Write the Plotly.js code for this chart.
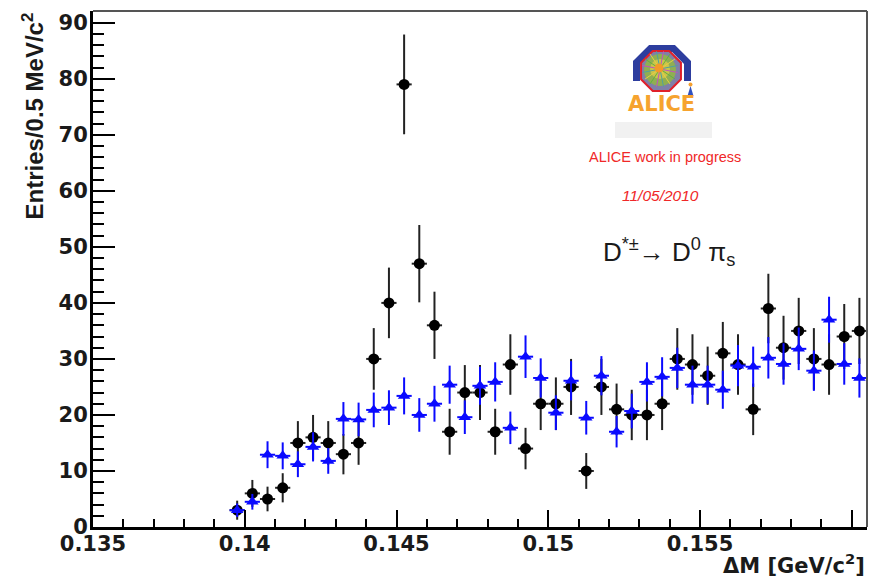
<!DOCTYPE html>
<html>
<head>
<meta charset="utf-8">
<script src="https://cdn.plot.ly/plotly-3.0.1.min.js"></script>
<style>html,body{margin:0;padding:0;background:#fff;}#chart{width:873px;height:580px;}</style>
</head>
<body>
<div id="chart"></div>
<script>
// ---- data ----
const binCenters = [0.13975,0.14025,0.14075,0.14125,0.14175,0.14225,0.14275,0.14325,0.14375,0.14425,
  0.14475,0.14525,0.14575,0.14625,0.14675,0.14725,0.14775,0.14825,0.14875,0.14925,
  0.14975,0.15025,0.15075,0.15125,0.15175,0.15225,0.15275,0.15325,0.15375,0.15425,
  0.15475,0.15525,0.15575,0.15625,0.15675,0.15725,0.15775,0.15825,0.15875,0.15925,
  0.15975,0.16025];
const binHalfWidth = 0.00025;
const signalCounts = [3,6,5,7,15,16,15,13,15,30,40,79,47,36,17,24,24,17,29,14,
  22,22,25,10,25,21,20,20,22,30,29,27,31,29,21,39,32,35,30,29,34,35];
const signalErrors = [1.7,2.4,2.2,2.6,3.9,4.0,3.9,3.6,3.9,5.5,6.3,8.9,6.9,6.0,4.1,4.9,4.9,4.1,5.4,3.7,
  4.7,4.7,5.0,3.2,5.0,4.6,4.5,4.5,4.7,5.5,5.4,5.2,5.6,5.4,4.6,6.2,5.7,5.9,5.5,5.4,5.8,5.9];
const bkgCounts = [3,4.5,12.9,12.7,11.2,14.3,11.8,19.3,19.2,20.9,21.3,23.4,20,22,25.4,19.6,25.2,25.9,17.7,30.4,
  26.6,20.4,26.1,19.5,27,17,20.7,25.9,26.8,28.4,25.4,25.4,24.5,28.8,28.6,30.2,29.1,31.8,27.9,37,29.1,26.6];
const bkgErrors = [1.2,1.4,2.4,2.4,2.3,2.6,2.3,3.0,3.0,3.1,3.1,3.3,3.0,3.2,3.4,3.0,3.4,3.5,2.9,3.8,
  3.5,3.1,3.5,3.0,3.5,2.8,3.1,3.5,3.5,3.6,3.4,3.4,3.4,3.7,3.6,3.7,3.7,3.8,3.6,4.1,3.7,3.5];
const xTickVals = [0.135,0.14,0.145,0.15,0.155,0.16];
const xTickLabels = ['0.135','0.14','0.145','0.15','0.155','0.16'];
const yTickVals = [0,10,20,30,40,50,60,70,80,90];
const yTickLabels = ['0','10','20','30','40','50','60','70','80','90'];

// ---- pixel helpers for decorations (plot area 93..867 x 11..527) ----
const L=93, R=867, T=11, B=527;
function PX(p){return (p-L)/(R-L);}
function PY(p){return (B-p)/(B-T);}

const traces = [
  {
    x: binCenters, y: signalCounts, type:'scatter', mode:'markers', name:'signal',
    marker:{symbol:'circle', size:11, color:'#000'},
    error_y:{type:'data', array:signalErrors, visible:true, thickness:2, width:0, color:'#222'},
    error_x:{type:'constant', value:binHalfWidth, visible:true, thickness:2, width:0, color:'#222'},
    hoverinfo:'x+y'
  },
  {
    x: binCenters, y: bkgCounts, type:'scatter', mode:'markers', name:'background',
    marker:{symbol:'triangle-up', size:11, color:'#0a0aff'},
    error_y:{type:'data', array:bkgErrors, visible:true, thickness:2, width:0, color:'#0a0aff'},
    error_x:{type:'constant', value:binHalfWidth, visible:true, thickness:2, width:0, color:'#0a0aff'},
    hoverinfo:'x+y'
  }
];

// frame + logo shapes
const shapes = [
  {type:'line', xref:'paper', yref:'paper', x0:0, x1:1, y0:1, y1:1, line:{color:'#555', width:2}},
  {type:'line', xref:'paper', yref:'paper', x0:1, x1:1, y0:0, y1:1, line:{color:'#555', width:2}}
];
function pathFrom(pts, close){
  return pts.map((p,i)=>(i?'L':'M')+PX(p[0]).toFixed(5)+','+PY(p[1]).toFixed(5)).join(' ')+(close?' Z':'');
}
// blue arch
shapes.push({type:'path', xref:'paper', yref:'paper', layer:'above',
  path:pathFrom([[636.5,81],[636.5,62.5],[650.5,48.5],[673.5,48.5],[687.5,62.5],[687.5,81]], false),
  line:{color:'#2d3d9e', width:7}});
// red octagon
const oc=[661,71], orad=21.6;
const octPts=[];
for(let k=0;k<8;k++){const a=(22.5+45*k)*Math.PI/180; octPts.push([oc[0]+orad*Math.cos(a), oc[1]+orad*Math.sin(a)]);}
shapes.push({type:'path', xref:'paper', yref:'paper', layer:'above', path:pathFrom(octPts,true),
  fillcolor:'#7f7fa8', line:{color:'#e0202a', width:2}});
function circ(cx,cy,r,col){return {type:'circle', xref:'paper', yref:'paper', layer:'above',
  x0:PX(cx-r), x1:PX(cx+r), y0:PY(cy+r), y1:PY(cy-r), fillcolor:col, line:{width:0}};}
shapes.push(circ(660,70,16,'#8fae52'));
shapes.push(circ(660,69,10,'#c9c44a'));
const rayCols=['#c050c0','#60b040','#e8d040','#50a0a0'];
for(let k=0;k<16;k++){
  const a=(11.25+22.5*k)*Math.PI/180;
  shapes.push({type:'line', xref:'paper', yref:'paper', layer:'above',
    x0:PX(660), y0:PY(69), x1:PX(660+18*Math.cos(a)), y1:PY(69+18*Math.sin(a)),
    line:{color:rayCols[k%4], width:1}});
}
shapes.push(circ(659,68,4.5,'#f39a28'));
// little figure
shapes.push({type:'path', xref:'paper', yref:'paper', layer:'above',
  path:pathFrom([[690.5,86],[687.5,96],[693.5,96]],true), fillcolor:'#3050c0', line:{width:0}});
shapes.push(circ(690.5,84.5,2,'#f5a030'));
// grey box
shapes.push({type:'rect', xref:'paper', yref:'paper', layer:'above',
  x0:PX(615), x1:PX(712), y0:PY(138), y1:PY(122), fillcolor:'#f1f1f1', line:{width:0}});

const annotations = [
  {text:'ALICE', xref:'paper', yref:'paper', x:PX(661), y:PY(104), xanchor:'center', yanchor:'middle', showarrow:false,
   font:{family:'DejaVu Sans', size:21, color:'#f6a32e', weight:'bold'}},
  {text:'ALICE work in progress', xref:'paper', yref:'paper', x:PX(665), y:PY(157), xanchor:'center', yanchor:'middle', showarrow:false,
   font:{family:'Liberation Sans', size:14.5, color:'#f02828'}},
  {text:'11/05/2010', xref:'paper', yref:'paper', x:PX(660), y:PY(196), xanchor:'center', yanchor:'middle', showarrow:false,
   font:{family:'Liberation Sans', size:15.5, color:'#f02828', style:'italic'}},
  {text:'D<sup>*±</sup>→ D<sup>0</sup> π<sub>s</sub>', xref:'paper', yref:'paper', x:PX(601), y:PY(252), xanchor:'left', yanchor:'middle', showarrow:false,
   font:{family:'Liberation Sans', size:26, color:'#1a1a1a'}},
  {text:'ΔM [GeV/c<sup>2</sup>]', xref:'paper', yref:'paper', x:PX(866), y:PY(579), xanchor:'right', yanchor:'bottom', showarrow:false, borderpad:0,
   font:{family:'DejaVu Sans', size:21, color:'#1a1a1a', weight:'bold'}},
  {text:'Entries/0.5 MeV/c<sup>2</sup>', xref:'paper', yref:'paper', x:PX(32), y:PY(11), xanchor:'center', yanchor:'top', textangle:-90, showarrow:false,
   font:{family:'Liberation Sans', size:24, color:'#1a1a1a', weight:'bold'}}
];

const layout = {
  width:873, height:580,
  margin:{l:L, r:873-R, t:T, b:580-B, pad:0},
  paper_bgcolor:'#fff', plot_bgcolor:'#fff',
  showlegend:false,
  xaxis:{range:[0.135,0.1605], tickmode:'array', tickvals:xTickVals, ticktext:xTickLabels,
    ticks:'inside', ticklen:17, tickwidth:2, tickcolor:'#000', ticklabelstandoff:-4,
    minor:{tickmode:'linear', tick0:0.135, dtick:0.001, ticks:'inside', ticklen:8, tickwidth:2, tickcolor:'#000', showgrid:false},
    showline:true, linecolor:'#000', linewidth:3, showgrid:false, zeroline:false,
    tickfont:{family:'DejaVu Sans', size:21, color:'#1a1a1a', weight:'bold'}},
  yaxis:{range:[0,92.1], tickmode:'array', tickvals:yTickVals, ticktext:yTickLabels,
    ticks:'inside', ticklen:22, tickwidth:2, tickcolor:'#000', ticklabelstandoff:-2,
    minor:{tickmode:'linear', tick0:0, dtick:2, ticks:'inside', ticklen:11, tickwidth:2, tickcolor:'#000', showgrid:false},
    showline:true, linecolor:'#000', linewidth:3, showgrid:false, zeroline:false,
    tickfont:{family:'DejaVu Sans', size:21, color:'#1a1a1a', weight:'bold'}},
  shapes:shapes,
  annotations:annotations
};

Plotly.newPlot('chart', traces, layout, {displayModeBar:false, staticPlot:true});
</script>
</body>
</html>
